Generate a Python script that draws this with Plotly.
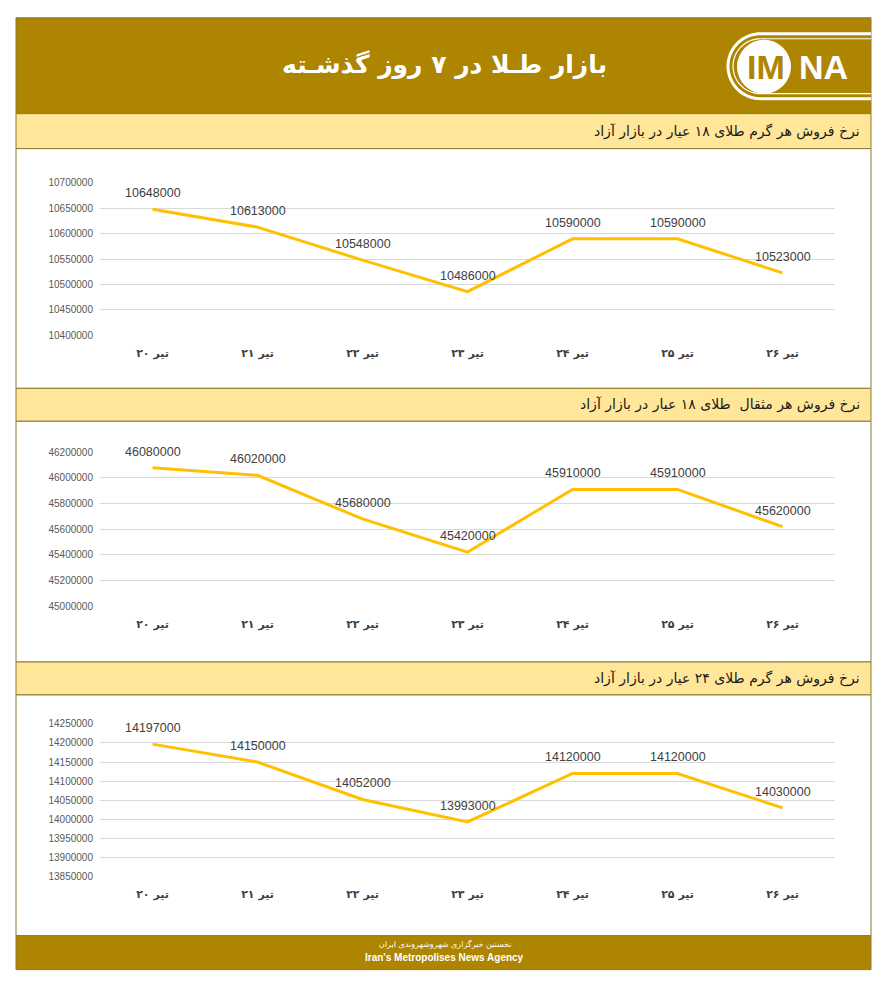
import numpy as np
import plotly.graph_objects as go

# ---------------- data ----------------
day_nums = ["۲۰", "۲۱", "۲۲", "۲۳", "۲۴", "۲۵", "۲۶"]
month = "تیر"
gram18 = [10648000, 10613000, 10548000, 10486000, 10590000, 10590000, 10523000]
mesghal18 = [46080000, 46020000, 45680000, 45420000, 45910000, 45910000, 45620000]
gram24 = [14197000, 14150000, 14052000, 13993000, 14120000, 14120000, 14030000]

title_text = "بازار طـلا در ۷ روز گذشـته"
subtitles = [
    "نرخ فروش هر گرم طلای ۱۸ عیار در بازار آزاد",
    "نرخ فروش هر مثقال  طلای ۱۸ عیار در بازار آزاد",
    "نرخ فروش هر گرم طلای ۲۴ عیار در بازار آزاد",
]
footer_fa = "نخستین خبرگزاری شهروشهروندی ایران"
footer_en = "Iran's Metropolises News Agency"

y_ranges = [(10400000, 10700000, 50000), (45000000, 46200000, 200000), (13850000, 14250000, 50000)]
series = [gram18, mesghal18, gram24]

# category labels (digits shown on the left of the month name, as in the reference)
days = [month + " <span style='color:#404040'>" + d + "</span>" for d in day_nums]

# ---------------- layout helpers ----------------
OFF = 8  # browser body margin
W, H = 888 - 2 * OFF, 1000 - 2 * OFF
def px(x):
    return (x - OFF) / W
def py(y):
    y = (y - 5.3) / 0.989  # empirical vertical correction
    return 1 - (y - OFF) / H

GOLD = "#AE8500"
BAND = "#FFE699"
BORDER = "#8C7A32"
LINE = "#FFC000"

panels = [  # band top, band bottom, chart bottom, grid top, grid bottom (page pixels)
    (113, 148, 388, 182.3, 335.0),
    (388, 421, 662, 452.0, 606.0),
    (662, 695, 936, 724.0, 876.7),
]

fig = go.Figure()
shapes = []
annotations = []

shapes.append(dict(type="rect", xref="paper", yref="paper", x0=px(16), x1=px(871), y0=py(17), y1=py(113),
                   fillcolor=GOLD, line=dict(color=BORDER, width=1), layer="below"))
for (bt, bb, cb, gt, gb) in panels:
    shapes.append(dict(type="rect", xref="paper", yref="paper", x0=px(16), x1=px(871), y0=py(bt), y1=py(bb),
                       fillcolor=BAND, line=dict(color=BORDER, width=1), layer="below"))
    shapes.append(dict(type="rect", xref="paper", yref="paper", x0=px(16), x1=px(871), y0=py(bb), y1=py(cb),
                       fillcolor="white", line=dict(color=BORDER, width=1), layer="below"))
shapes.append(dict(type="rect", xref="paper", yref="paper", x0=px(16), x1=px(871), y0=py(936), y1=py(970),
                   fillcolor=GOLD, line=dict(color=BORDER, width=1), layer="below"))

# logo
def rounded(xl, xr, yt, yb):
    r = (yb - yt) / 2
    cy = (yt + yb) / 2
    cx = xl + r
    pts = [(xr, yt)]
    for a in np.linspace(-np.pi / 2, -3 * np.pi / 2, 40):
        pts.append((cx + r * np.cos(a), cy + r * np.sin(a)))
    pts.append((xr, yb))
    return "M " + " L ".join(f"{px(x):.5f},{py(y):.5f}" for x, y in pts)

shapes.append(dict(type="path", xref="paper", yref="paper", path=rounded(728, 871, 33, 98),
                   line=dict(color="white", width=3)))
shapes.append(dict(type="path", xref="paper", yref="paper", path=rounded(733, 871, 38, 93),
                   line=dict(color="white", width=1.2)))
shapes.append(dict(type="circle", xref="paper", yref="paper", x0=px(737), x1=px(791), y0=py(39), y1=py(93),
                   fillcolor="white", line=dict(color="white", width=0)))
annotations.append(dict(x=px(766), y=py(66), xref="paper", yref="paper", text="<b>IM</b>", showarrow=False,
                        font=dict(family="Liberation Sans Narrow, Liberation Sans", size=34, color=GOLD),
                        xanchor="center", yanchor="middle"))
annotations.append(dict(x=px(823), y=py(66), xref="paper", yref="paper", text="<b>NA</b>", showarrow=False,
                        font=dict(family="Liberation Sans Narrow, Liberation Sans", size=34, color="white"),
                        xanchor="center", yanchor="middle"))

# title
annotations.append(dict(x=px(445), y=py(64), xref="paper", yref="paper", text=f"<b>{title_text}</b>",
                        showarrow=False, font=dict(family="DejaVu Sans", size=25, color="white"),
                        xanchor="center", yanchor="middle"))
# footer
annotations.append(dict(x=px(445), y=py(944), xref="paper", yref="paper", text=footer_fa, showarrow=False,
                        font=dict(family="DejaVu Sans", size=8, color="white"), xanchor="center", yanchor="middle"))
annotations.append(dict(x=px(445), y=py(958), xref="paper", yref="paper", text=f"<b>{footer_en}</b>", showarrow=False,
                        font=dict(family="Liberation Sans Narrow, Liberation Sans", size=10, color="white"),
                        xanchor="center", yanchor="middle"))

for i, ((bt, bb, cb, gt, gb), vals, (ymin, ymax, dt), sub) in enumerate(zip(panels, series, y_ranges, subtitles)):
    n = "" if i == 0 else str(i + 1)
    xa, ya = "x" + n, "y" + n
    fig.add_trace(go.Scatter(x=days, y=vals, mode="lines", line=dict(color=LINE, width=3),
                             xaxis=xa, yaxis=ya, hoverinfo="skip", showlegend=False))
    for d, v in zip(days, vals):
        annotations.append(dict(x=d, y=v, xref=xa, yref=ya, text=str(v), showarrow=False, yshift=16,
                                font=dict(family="Liberation Sans", size=12.5, color="#404040"),
                                xanchor="center", yanchor="middle"))
    annotations.append(dict(x=px(862), y=py((bt + bb) / 2), xref="paper", yref="paper", text=sub,
                            showarrow=False, font=dict(family="DejaVu Sans", size=14, color="#1a1a1a"),
                            xanchor="right", yanchor="middle"))
    fig.layout["xaxis" + n] = dict(domain=[px(100), px(835)], anchor=ya, type="category",
                                   range=[-0.5, len(days) - 0.5], showgrid=False, zeroline=False, showline=False,
                                   ticks="", tickfont=dict(family="DejaVu Sans", size=11, color="#404040",
                                                           weight="bold"),
                                   ticklabelstandoff=10, fixedrange=True)
    fig.layout["yaxis" + n] = dict(domain=[py(gb), py(gt)], anchor=xa, range=[ymin, ymax], dtick=dt,
                                   tick0=ymin, tickformat="d", showgrid=True, gridcolor="#D9D9D9", gridwidth=1,
                                   zeroline=False, showline=False, ticks="",
                                   tickfont=dict(family="Liberation Sans", size=10, color="#595959"),
                                   ticklabelstandoff=6, fixedrange=True)

fig.update_layout(width=W, height=H, margin=dict(l=0, r=0, t=0, b=0), paper_bgcolor="white",
                  plot_bgcolor="rgba(0,0,0,0)", shapes=shapes, annotations=annotations, showlegend=False)
fig.write_html("out.html")
